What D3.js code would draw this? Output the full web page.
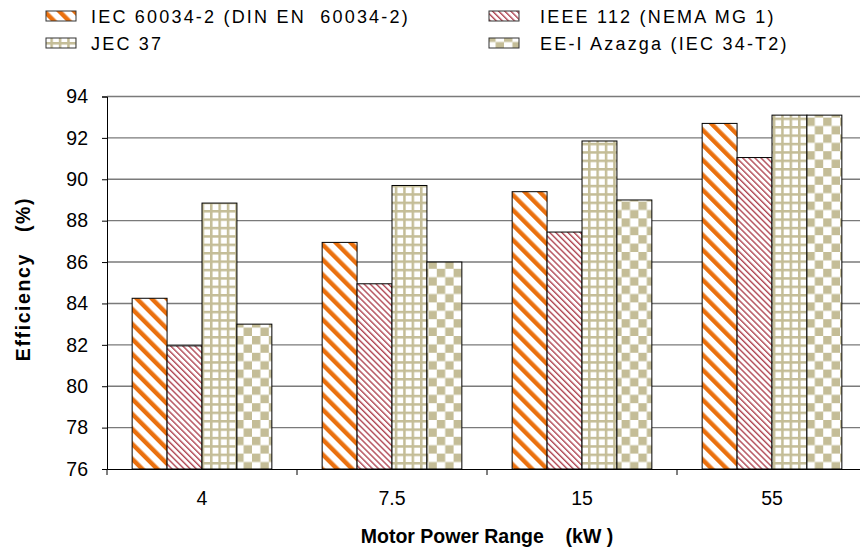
<!DOCTYPE html>
<html><head><meta charset="utf-8">
<script src="https://cdn.jsdelivr.net/npm/d3@7"></script>
<style>body{margin:0;background:#fff}svg{display:block}</style>
</head><body>
<script>
const categories = ["4", "7.5", "15", "55"];
const seriesNames = ["IEC 60034-2 (DIN EN  60034-2)", "IEEE 112 (NEMA MG 1)", "JEC 37", "EE-I Azazga (IEC 34-T2)"];
const iecValues  = [84.25, 86.95, 89.4, 92.7];
const ieeeValues = [81.95, 84.95, 87.45, 91.05];
const jecValues  = [88.85, 89.7, 91.85, 93.1];
const eeiValues  = [83.0, 86.0, 89.0, 93.1];
const yTicks = [76, 78, 80, 82, 84, 86, 88, 90, 92, 94];
const allValues = [iecValues, ieeeValues, jecValues, eeiValues];

(function(){
const W = 860, H = 552;
const FONT = "Liberation Sans, Arial, sans-serif";
const svg = d3.select("body").append("svg").attr("width", W).attr("height", H);
const defs = svg.append("defs");
const orange = "#EA700E", red = "#B04854", tan = "#C4BD97";

const p0 = defs.append("pattern").attr("id","pat0").attr("patternUnits","userSpaceOnUse")
  .attr("width",10.6).attr("height",10.6).attr("patternTransform","rotate(-45)");
p0.append("rect").attr("width",10.6).attr("height",10.6).attr("fill","#fff");
p0.append("rect").attr("x",0).attr("width",4.4).attr("height",10.6).attr("fill",orange);

const p1 = defs.append("pattern").attr("id","pat1").attr("patternUnits","userSpaceOnUse")
  .attr("width",4.3).attr("height",4.3).attr("patternTransform","rotate(-45)");
p1.append("rect").attr("width",4.3).attr("height",4.3).attr("fill","#fff");
p1.append("rect").attr("x",0).attr("width",1.4).attr("height",4.3).attr("fill",red);

const p2 = defs.append("pattern").attr("id","pat2").attr("patternUnits","userSpaceOnUse")
  .attr("width",8.4).attr("height",8.4);
p2.append("rect").attr("width",8.4).attr("height",8.4).attr("fill",tan);
p2.append("rect").attr("x",2.5).attr("y",2.5).attr("width",5.9).attr("height",5.9).attr("fill","#fff");

const p3 = defs.append("pattern").attr("id","pat3").attr("patternUnits","userSpaceOnUse")
  .attr("width",16.8).attr("height",16.8);
p3.append("rect").attr("width",16.8).attr("height",16.8).attr("fill","#fff");
p3.append("rect").attr("width",8.4).attr("height",8.4).attr("fill",tan);
p3.append("rect").attr("x",8.4).attr("y",8.4).attr("width",8.4).attr("height",8.4).attr("fill",tan);

const pLeft = 107, pRight = 867, pTop = 96.5, pBottom = 469;
const x0 = d3.scaleBand().domain(categories).range([pLeft, pRight]).padding(0);
const x1 = d3.scaleBand().domain(d3.range(4)).range([0, x0.bandwidth()]).paddingInner(0).paddingOuter(0.72);
const y = d3.scaleLinear().domain([76, 94]).range([pBottom, pTop]);

svg.append("g").selectAll("line").data(yTicks.slice(1)).join("line")
  .attr("x1", pLeft).attr("x2", pRight).attr("y1", d=>y(d)).attr("y2", d=>y(d))
  .attr("stroke","#7a7a7a").attr("stroke-width",1.4);

categories.forEach((c, ci) => {
  allValues.forEach((vals, si) => {
    svg.append("rect")
      .attr("x", x0(c) + x1(si)).attr("y", y(vals[ci]))
      .attr("width", x1.bandwidth()).attr("height", y(76) - y(vals[ci]))
      .attr("fill", `url(#pat${si})`).attr("stroke","#000").attr("stroke-width",1);
  });
});

const yAxis = d3.axisLeft(y).tickValues(yTicks).tickSize(5).tickPadding(14).tickFormat(d3.format("d"));
const gy = svg.append("g").attr("transform",`translate(${pLeft},0)`).call(yAxis);
gy.select(".domain").attr("stroke","#000");
gy.selectAll(".tick line").attr("stroke","#000");
gy.selectAll("text").attr("font-family",FONT).attr("font-size",19.5).attr("fill","#000");

const xAxis = d3.axisBottom(x0).tickSize(0).tickPadding(22);
const gx = svg.append("g").attr("transform",`translate(0,${pBottom})`).call(xAxis);
gx.select(".domain").attr("stroke","#000");
gx.selectAll("text").attr("font-family",FONT).attr("font-size",19.5).attr("fill","#000");
gx.selectAll(".bnd").data(categories).join("line").attr("class","bnd")
  .attr("x1", d=>x0(d)).attr("x2", d=>x0(d)).attr("y1",0).attr("y2",6).attr("stroke","#000");

svg.append("text").attr("x", (pLeft+pRight)/2).attr("y", 543).attr("text-anchor","middle")
  .attr("font-family",FONT).attr("font-weight","bold").attr("font-size",19.5)
  .style("white-space","pre").text("Motor Power Range    (kW )");
svg.append("text").attr("transform","translate(30,279) rotate(-90)").attr("text-anchor","middle")
  .attr("font-family",FONT).attr("font-weight","bold").attr("font-size",19.5).attr("letter-spacing",1.6)
  .style("white-space","pre").text("Efficiency   (%)");

const legPos = [[46,16],[489,16],[46,43],[489,43]];
seriesNames.forEach((n, i) => {
  const [lx, ly] = legPos[i];
  svg.append("rect").attr("x", lx).attr("y", ly-5).attr("width",30).attr("height",10)
    .attr("fill",`url(#pat${i})`).attr("stroke","#333").attr("stroke-width",1);
  svg.append("text").attr("x", lx + (i%2===0 ? 45 : 51)).attr("y", ly+7)
    .attr("font-family",FONT).attr("font-size",18).attr("letter-spacing",2.2)
    .style("white-space","pre").text(n);
});
})();
</script>
</body></html>
